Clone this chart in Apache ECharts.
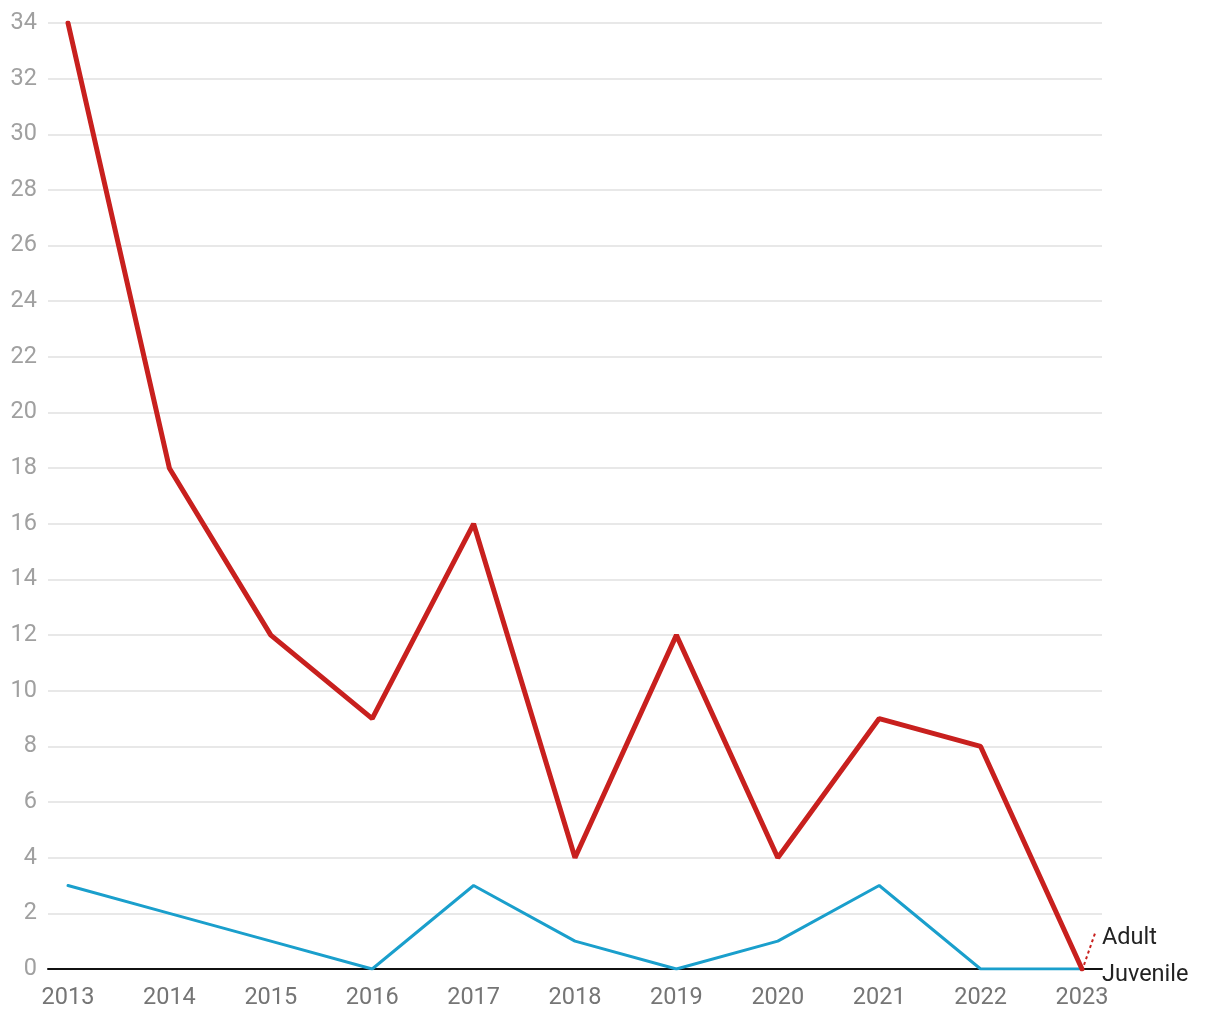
<!DOCTYPE html>
<html><head><meta charset="utf-8">
<script src="https://cdn.jsdelivr.net/npm/echarts@6/dist/echarts.min.js"></script>
<style>html,body{margin:0;padding:0;background:#fff}#c{width:1220px;height:1020px}</style>
</head><body><div id="c"></div>
<script>
const years = [2013,2014,2015,2016,2017,2018,2019,2020,2021,2022,2023];
const adult = [34,18,12,9,16,4,12,4,9,8,0];
const juvenile = [3,2,1,0,3,1,0,1,3,0,0];
const yTicks = [0,2,4,6,8,10,12,14,16,18,20,22,24,26,28,30,32,34];

const chart = echarts.init(document.getElementById('c'));
const pad = 20/101.4;
chart.setOption({
  animation:false,
  grid:{left:48,right:118,top:23,bottom:51,containLabel:false},
  xAxis:{type:'value',min:years[0]-pad,max:years[years.length-1]+pad,
    axisLine:{show:true,onZero:false,lineStyle:{color:'#111',width:2}},
    axisTick:{show:false},splitLine:{show:false},
    axisLabel:{customValues:years,margin:17,color:'#757575',fontSize:23.5,fontFamily:'Roboto',formatter:v=>String(Math.round(v))}},
  yAxis:{type:'value',min:0,max:34,interval:2,
    axisLine:{show:false},axisTick:{show:false},
    splitLine:{lineStyle:{color:'#e0e0e0',width:1.5}},
    axisLabel:{margin:11,color:'#a0a0a0',fontSize:23.5,fontFamily:'Roboto',padding:[4,0,0,0]}},
  series:[
    {name:'Juvenile',type:'line',data:years.map((y,i)=>[y,juvenile[i]]),symbol:'none',
     lineStyle:{color:'#1a9fcc',width:3,cap:'round'},z:2,
     endLabel:{show:true,formatter:'Juvenile',distance:0,offset:[20,6],color:'#222',fontSize:23.5,fontFamily:'Roboto'}},
    {name:'Adult',type:'line',data:years.map((y,i)=>[y,adult[i]]),symbol:'none',
     lineStyle:{color:'#c8201e',width:5,cap:'round'},z:3,
     endLabel:{show:true,formatter:'Adult',distance:0,offset:[20,-31],color:'#222',fontSize:23.5,fontFamily:'Roboto'},
     markLine:{silent:true,symbol:'none',label:{show:false},
       lineStyle:{color:'#c8201e',type:[3,3],width:2},
       data:[[{coord:[2023.02,0.15]},{coord:[2023.13,1.3]}]]}}
  ]
});
</script></body></html>
